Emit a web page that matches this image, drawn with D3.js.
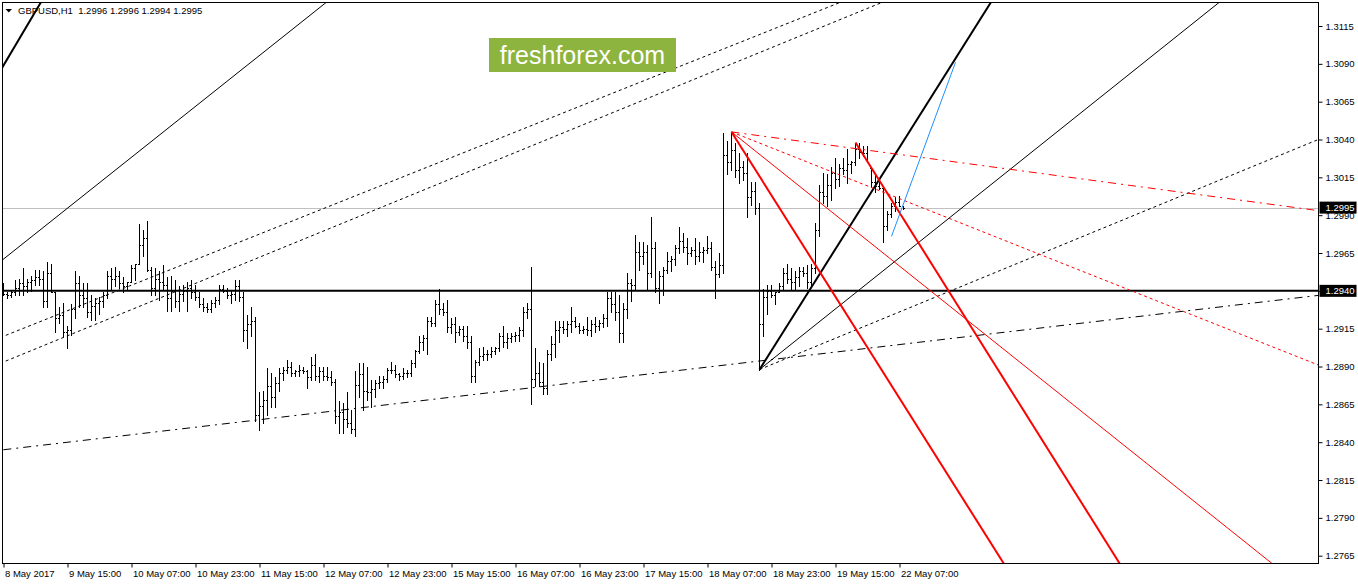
<!DOCTYPE html>
<html><head><meta charset="utf-8">
<script src="https://cdn.jsdelivr.net/npm/d3@7"></script>
<style>
body{margin:0;background:#fff}
svg{display:block}
text{font-family:"Liberation Sans",Arial,sans-serif}
</style>
</head><body>
<svg id="chart" width="1358" height="584"></svg>
<script>
// ---------- DATA ----------
const symbolTitle = "GBPUSD,H1  1.2996 1.2996 1.2994 1.2995";
const logoText = "freshforex.com";

const timeLabelBars = [0,16,32,48,64,80,96,112,128,144,160,176,192,208,224];
const timeLabels = ["8 May 2017","9 May 15:00","10 May 07:00","10 May 23:00","11 May 15:00","12 May 07:00","12 May 23:00","15 May 15:00","16 May 07:00","16 May 23:00","17 May 15:00","18 May 07:00","18 May 23:00","19 May 15:00","22 May 07:00"];
const priceTicks = [1.2765,1.2790,1.2815,1.2840,1.2865,1.2890,1.2915,1.2940,1.2965,1.2990,1.3015,1.3040,1.3065,1.3090,1.3115];

const barHigh = [
1.2945,1.2939,1.2940,1.2947,1.2948,1.2955,1.2948,1.2950,1.2954,1.2954,
1.2953,1.2959,1.2958,1.2939,1.2929,1.2932,1.2917,1.2931,1.2953,1.2950,
1.2945,1.2945,1.2937,1.2935,1.2936,1.2939,1.2953,1.2955,1.2956,1.2953,
1.2949,1.2946,1.2957,1.2958,1.2984,1.2980,1.2986,1.2956,1.2955,1.2953,
1.2957,1.2949,1.2950,1.2947,1.2943,1.2944,1.2946,1.2947,1.2944,1.2939,
1.2935,1.2932,1.2934,1.2936,1.2944,1.2944,1.2942,1.2940,1.2947,1.2947,
1.2939,1.2924,1.2929,1.2923,1.2873,1.2874,1.2889,1.2886,1.2883,1.2889,
1.2890,1.2894,1.2893,1.2888,1.2891,1.2890,1.2888,1.2896,1.2898,1.2890,
1.2890,1.2890,1.2887,1.2882,1.2867,1.2866,1.2873,1.2861,1.2887,1.2892,
1.2892,1.2890,1.2881,1.2881,1.2884,1.2884,1.2889,1.2893,1.2891,1.2886,
1.2889,1.2888,1.2894,1.2901,1.2910,1.2911,1.2923,1.2923,1.2934,1.2941,
1.2932,1.2934,1.2922,1.2923,1.2917,1.2917,1.2917,1.2910,1.2894,1.2902,
1.2903,1.2901,1.2903,1.2903,1.2912,1.2917,1.2912,1.2912,1.2913,1.2916,
1.2929,1.2932,1.2956,1.2902,1.2893,1.2892,1.2901,1.2910,1.2920,1.2920,
1.2920,1.2920,1.2929,1.2923,1.2919,1.2917,1.2923,1.2921,1.2923,1.2921,
1.2925,1.2939,1.2939,1.2939,1.2937,1.2932,1.2952,1.2948,1.2977,1.2972,
1.2972,1.2970,1.2989,1.2972,1.2953,1.2956,1.2966,1.2963,1.2970,1.2982,
1.2978,1.2975,1.2969,1.2975,1.2972,1.2969,1.2976,1.2972,1.2960,1.2965,
1.3044,1.3039,1.3045,1.3038,1.3031,1.3026,1.3031,1.3012,1.3012,1.2998,
1.2941,1.2944,1.2944,1.2939,1.2945,1.2955,1.2958,1.2955,1.2953,1.2956,
1.2956,1.2957,1.2958,1.2985,1.3010,1.3018,1.3017,1.3022,1.3028,1.3024,
1.3028,1.3034,1.3026,1.3038,1.3038,1.3036,1.3036,1.3021,1.3018,1.3013,
1.3009,1.2993,1.2998,1.3002,1.3003,1.2996];

const barLow = [
1.2937,1.2935,1.2936,1.2937,1.2937,1.2937,1.2939,1.2940,1.2944,1.2944,
1.2929,1.2929,1.2939,1.2913,1.2919,1.2910,1.2902,1.2911,1.2922,1.2929,
1.2929,1.2923,1.2921,1.2921,1.2925,1.2929,1.2935,1.2941,1.2943,1.2942,
1.2939,1.2941,1.2946,1.2947,1.2958,1.2963,1.2953,1.2937,1.2937,1.2934,
1.2941,1.2927,1.2927,1.2929,1.2927,1.2933,1.2927,1.2935,1.2934,1.2929,
1.2927,1.2926,1.2926,1.2929,1.2931,1.2939,1.2935,1.2932,1.2934,1.2933,
1.2907,1.2902,1.2910,1.2854,1.2848,1.2853,1.2858,1.2863,1.2863,1.2874,
1.2881,1.2886,1.2884,1.2884,1.2884,1.2886,1.2876,1.2881,1.2881,1.2880,
1.2881,1.2881,1.2878,1.2853,1.2846,1.2846,1.2850,1.2846,1.2844,1.2870,
1.2861,1.2868,1.2863,1.2870,1.2876,1.2876,1.2880,1.2886,1.2883,1.2881,
1.2882,1.2883,1.2884,1.2890,1.2899,1.2901,1.2898,1.2917,1.2917,1.2925,
1.2924,1.2913,1.2912,1.2906,1.2911,1.2907,1.2902,1.2880,1.2880,1.2891,
1.2894,1.2894,1.2896,1.2898,1.2900,1.2903,1.2902,1.2906,1.2907,1.2907,
1.2910,1.2922,1.2865,1.2877,1.2877,1.2872,1.2872,1.2894,1.2896,1.2906,
1.2912,1.2910,1.2913,1.2916,1.2912,1.2912,1.2911,1.2910,1.2913,1.2914,
1.2916,1.2917,1.2926,1.2921,1.2906,1.2906,1.2922,1.2933,1.2941,1.2954,
1.2958,1.2941,1.2949,1.2939,1.2932,1.2937,1.2952,1.2953,1.2957,1.2965,
1.2966,1.2958,1.2963,1.2958,1.2960,1.2959,1.2965,1.2954,1.2935,1.2949,
1.2952,1.3017,1.3020,1.3015,1.3011,1.3013,1.2989,1.2997,1.2991,1.2888,
1.2910,1.2925,1.2936,1.2931,1.2939,1.2941,1.2945,1.2941,1.2941,1.2943,
1.2950,1.2942,1.2943,1.2952,1.2976,1.2998,1.2996,1.3000,1.3008,1.3009,
1.3017,1.3011,1.3018,1.3023,1.3028,1.3029,1.3025,1.3009,1.3005,1.3007,
1.2972,1.2980,1.2989,1.2993,1.2996,1.2994];

const barOpen = [
1.2942,1.2938,1.2937,1.2939,1.2942,1.2945,1.2943,1.2946,1.2947,1.2949,
1.2948,1.2933,1.2952,1.2939,1.2922,1.2924,1.2913,1.2914,1.2928,1.2945,
1.2937,1.2935,1.2926,1.2930,1.2932,1.2933,1.2937,1.2950,1.2948,1.2950,
1.2945,1.2943,1.2946,1.2955,1.2958,1.2970,1.2975,1.2954,1.2942,1.2948,
1.2946,1.2944,1.2935,1.2940,1.2933,1.2938,1.2940,1.2942,1.2939,1.2936,
1.2931,1.2929,1.2928,1.2932,1.2934,1.2941,1.2940,1.2937,1.2938,1.2943,
1.2936,1.2914,1.2918,1.2920,1.2858,1.2864,1.2868,1.2877,1.2870,1.2879,
1.2886,1.2888,1.2890,1.2886,1.2887,1.2888,1.2887,1.2883,1.2891,1.2884,
1.2887,1.2884,1.2883,1.2880,1.2857,1.2860,1.2855,1.2853,1.2849,1.2878,
1.2885,1.2874,1.2873,1.2875,1.2879,1.2880,1.2882,1.2888,1.2888,1.2885,
1.2884,1.2886,1.2886,1.2892,1.2900,1.2906,1.2909,1.2920,1.2919,1.2931,
1.2928,1.2926,1.2916,1.2918,1.2913,1.2915,1.2910,1.2906,1.2884,1.2893,
1.2897,1.2898,1.2898,1.2900,1.2902,1.2910,1.2906,1.2909,1.2910,1.2911,
1.2914,1.2926,1.2928,1.2882,1.2886,1.2880,1.2876,1.2898,1.2905,1.2914,
1.2916,1.2915,1.2918,1.2920,1.2917,1.2914,1.2915,1.2914,1.2918,1.2917,
1.2919,1.2922,1.2935,1.2931,1.2926,1.2912,1.2928,1.2945,1.2944,1.2966,
1.2963,1.2966,1.2952,1.2968,1.2942,1.2950,1.2954,1.2960,1.2961,1.2968,
1.2973,1.2969,1.2965,1.2967,1.2963,1.2966,1.2967,1.2968,1.2956,1.2951,
1.2957,1.3030,1.3025,1.3033,1.3020,1.3022,1.3018,1.3002,1.3006,1.2995,
1.2918,1.2936,1.2940,1.2937,1.2939,1.2943,1.2952,1.2948,1.2946,1.2949,
1.2953,1.2952,1.2946,1.2955,1.2980,1.3005,1.3003,1.3010,1.3018,1.3014,
1.3021,1.3020,1.3024,1.3025,1.3034,1.3032,1.3031,1.3021,1.3012,1.3009,
1.3008,1.2983,1.2991,1.2996,1.2999,1.2996];

const barClose = [
1.2938,1.2937,1.2939,1.2942,1.2945,1.2943,1.2946,1.2947,1.2949,1.2948,
1.2933,1.2952,1.2939,1.2922,1.2924,1.2913,1.2914,1.2928,1.2945,1.2937,
1.2935,1.2926,1.2930,1.2932,1.2933,1.2937,1.2950,1.2948,1.2950,1.2945,
1.2943,1.2946,1.2955,1.2958,1.2970,1.2975,1.2954,1.2942,1.2948,1.2946,
1.2944,1.2935,1.2940,1.2933,1.2938,1.2940,1.2942,1.2939,1.2936,1.2931,
1.2929,1.2928,1.2932,1.2934,1.2941,1.2940,1.2937,1.2938,1.2943,1.2936,
1.2914,1.2918,1.2920,1.2858,1.2864,1.2868,1.2877,1.2870,1.2879,1.2886,
1.2888,1.2890,1.2886,1.2887,1.2888,1.2887,1.2883,1.2891,1.2884,1.2887,
1.2884,1.2883,1.2880,1.2857,1.2860,1.2855,1.2853,1.2849,1.2878,1.2885,
1.2874,1.2873,1.2875,1.2879,1.2880,1.2882,1.2888,1.2888,1.2885,1.2884,
1.2886,1.2886,1.2892,1.2900,1.2906,1.2909,1.2920,1.2919,1.2931,1.2928,
1.2926,1.2916,1.2918,1.2913,1.2915,1.2910,1.2906,1.2884,1.2893,1.2897,
1.2898,1.2898,1.2900,1.2902,1.2910,1.2906,1.2909,1.2910,1.2911,1.2914,
1.2926,1.2928,1.2882,1.2886,1.2880,1.2876,1.2898,1.2905,1.2914,1.2916,
1.2915,1.2918,1.2920,1.2917,1.2914,1.2915,1.2914,1.2918,1.2917,1.2919,
1.2922,1.2935,1.2931,1.2926,1.2912,1.2928,1.2945,1.2944,1.2966,1.2963,
1.2966,1.2952,1.2968,1.2942,1.2950,1.2954,1.2960,1.2961,1.2968,1.2973,
1.2969,1.2965,1.2967,1.2963,1.2966,1.2967,1.2968,1.2956,1.2951,1.2957,
1.3030,1.3025,1.3033,1.3020,1.3022,1.3018,1.3002,1.3006,1.2995,1.2918,
1.2936,1.2940,1.2937,1.2939,1.2943,1.2952,1.2948,1.2946,1.2949,1.2953,
1.2952,1.2946,1.2955,1.2980,1.3005,1.3003,1.3010,1.3018,1.3014,1.3021,
1.3020,1.3024,1.3025,1.3034,1.3032,1.3031,1.3025,1.3012,1.3009,1.3008,
1.2983,1.2991,1.2996,1.2999,1.2996,1.2995];

const supportLevel = 1.2940;
const bidLevel = 1.2995;

// drawn objects: [barIndex, price] anchor pairs
const fanLowSteep   = [[189,1.2888],[225,1.3039]];
const fanLowMid     = [[189,1.2888],[225,1.2964]];
const fanLowFlat    = [[189,1.2888],[328.7,1.3040]];
const chanSteep     = [[0,1.3089],[9.2,1.3130]];
const chanMid       = [[0,1.2961],[80.4,1.3130]];
const chanDotUpper  = [[0,1.2910],[208.6,1.3130]];
const chanDotLower  = [[0,1.2893],[219.1,1.3130]];
const trendDashDot  = [[0,1.2835],[328.7,1.2937]];
const fanHighSteep  = [[182,1.3045],[240,1.2802]];
const fanHighMid    = [[182,1.3045],[300,1.2796]];
const fanHighDot    = [[182,1.3045],[328.7,1.2891]];
const fanHighDashDot= [[182,1.3045],[328.7,1.2993]];
const redParallel   = [[213,1.3038],[279,1.2760]];
const blueSegment   = [[222,1.2976],[238,1.3091]];

// ---------- DRAW ----------
const svg = d3.select("#chart");
const L = 2.5, T = 2.5, R = 1318.5, B = 563.5;
const x = d3.scaleLinear().domain([0, 100]).range([3.5, 403.5]);
const y = d3.scaleLinear().domain([1.2765, 1.3115]).range([555.7, 26]);

svg.append("rect").attr("width",1358).attr("height",584).attr("fill","#fff");

svg.append("defs").append("clipPath").attr("id","plotClip")
  .append("rect").attr("x",L+0.5).attr("y",T+0.5).attr("width",R-L-1).attr("height",B-T-1);
const plot = svg.append("g").attr("clip-path","url(#plotClip)");

// bid line
plot.append("line").attr("x1",L).attr("x2",R)
  .attr("y1",Math.round(y(bidLevel))+0.5).attr("y2",Math.round(y(bidLevel))+0.5)
  .attr("stroke","#c0c0c0").attr("stroke-width",1);

// OHLC bars
const bars = d3.range(barHigh.length).map(i => ({i, o:barOpen[i], h:barHigh[i], l:barLow[i], c:barClose[i]}));
const gb = plot.append("g").attr("fill","#000");
gb.selectAll("rect.hl").data(bars).join("rect").attr("class","hl")
  .attr("x", d => x(d.i)-0.5).attr("width",1)
  .attr("y", d => Math.round(y(d.h)))
  .attr("height", d => Math.round(y(d.l)) - Math.round(y(d.h)) + 1);
gb.selectAll("rect.op").data(bars).join("rect").attr("class","op")
  .attr("x", d => x(d.i)-1.5).attr("width",1)
  .attr("y", d => Math.round(y(d.o))).attr("height",1);
gb.selectAll("rect.cl").data(bars).join("rect").attr("class","cl")
  .attr("x", d => x(d.i)+0.5).attr("width",1)
  .attr("y", d => Math.round(y(d.c))).attr("height",1);

// support horizontal line
plot.append("line").attr("x1",L).attr("x2",R)
  .attr("y1",y(supportLevel)).attr("y2",y(supportLevel))
  .attr("stroke","#000").attr("stroke-width",2);

// helper: extend a line through two anchors
function extend(pts, mode){
  const [a,b] = pts;
  const s = (b[1]-a[1])/(b[0]-a[0]);
  const at = t => [t, a[1] + s*(t-a[0])];
  if (mode === "both") return [at(-5), at(340)];
  if (mode === "ray") return [a, at(340)];
  return [a, b];
}
const objects = [
  {pts:chanSteep, mode:"both", color:"#000", w:2, dash:null},
  {pts:chanMid, mode:"both", color:"#000", w:1, dash:null},
  {pts:chanDotUpper, mode:"both", color:"#000", w:1, dash:"3,3"},
  {pts:chanDotLower, mode:"both", color:"#000", w:1, dash:"3,3"},
  {pts:trendDashDot, mode:"both", color:"#000", w:1, dash:"8,5,2,5"},
  {pts:fanLowSteep, mode:"ray", color:"#000", w:2, dash:null},
  {pts:fanLowMid, mode:"ray", color:"#000", w:1, dash:null},
  {pts:fanLowFlat, mode:"ray", color:"#000", w:1, dash:"3,3"},
  {pts:fanHighDashDot, mode:"ray", color:"#ff0000", w:1, dash:"8,5,2,5"},
  {pts:fanHighDot, mode:"ray", color:"#ff0000", w:1, dash:"3,3"},
  {pts:fanHighMid, mode:"ray", color:"#ff0000", w:1, dash:null},
  {pts:fanHighSteep, mode:"ray", color:"#ff0000", w:2, dash:null},
  {pts:redParallel, mode:"ray", color:"#ff0000", w:2, dash:null},
  {pts:blueSegment, mode:"seg", color:"#1e90ff", w:1, dash:null}
];
plot.append("g").selectAll("line").data(objects).join("line")
  .each(function(d){
    const [p,q] = extend(d.pts, d.mode);
    d3.select(this).attr("x1",x(p[0])).attr("y1",y(p[1])).attr("x2",x(q[0])).attr("y2",y(q[1]));
  })
  .attr("stroke", d=>d.color).attr("stroke-width", d=>d.w)
  .attr("stroke-dasharray", d=>d.dash).attr("fill","none");

// border
svg.append("rect").attr("x",L).attr("y",T).attr("width",R-L).attr("height",B-T)
  .attr("fill","none").attr("stroke","#000").attr("stroke-width",1);

// right price axis
const yAxis = d3.axisRight(y).tickValues(priceTicks).tickSize(4).tickPadding(3).tickFormat(d3.format(".4f"));
const ga = svg.append("g").attr("transform",`translate(${R},0)`).call(yAxis);
ga.select(".domain").remove();
ga.selectAll("text").attr("font-family","Liberation Sans, Arial, sans-serif").attr("font-size",9.5).attr("fill","#000");

// bottom time axis
const xAxis = d3.axisBottom(x).tickValues(timeLabelBars).tickSize(4).tickFormat((d,i)=>timeLabels[i]);
const gx = svg.append("g").attr("transform",`translate(0,${B})`).call(xAxis);
gx.select(".domain").remove();
gx.selectAll("text").attr("text-anchor","start").attr("x",1).attr("y",7)
  .attr("font-family","Liberation Sans, Arial, sans-serif").attr("font-size",9.5).attr("fill","#000");

// price label boxes
[supportLevel, bidLevel].forEach(p=>{
  const yy = y(p);
  svg.append("rect").attr("x",R+1).attr("y",yy-6).attr("width",37).attr("height",12).attr("fill","#000");
  svg.append("text").attr("x",R+7).attr("y",yy).attr("dy","0.35em")
    .attr("font-size",9.5).attr("fill","#fff").text(d3.format(".4f")(p));
});

// title
svg.append("path").attr("d","M5.5,9 L12,9 L8.75,12.5 Z").attr("fill","#000");
svg.append("text").attr("x",18).attr("y",14).attr("font-size",9.5).attr("fill","#000")
  .attr("xml:space","preserve").style("white-space","pre").text(symbolTitle);

// logo
svg.append("rect").attr("x",489).attr("y",38).attr("width",187).attr("height",34).attr("fill","#8cb43f");
svg.append("text").attr("x",582.5).attr("y",64).attr("text-anchor","middle")
  .attr("font-size",25).attr("fill","#fff").text(logoText);
</script>
</body></html>
